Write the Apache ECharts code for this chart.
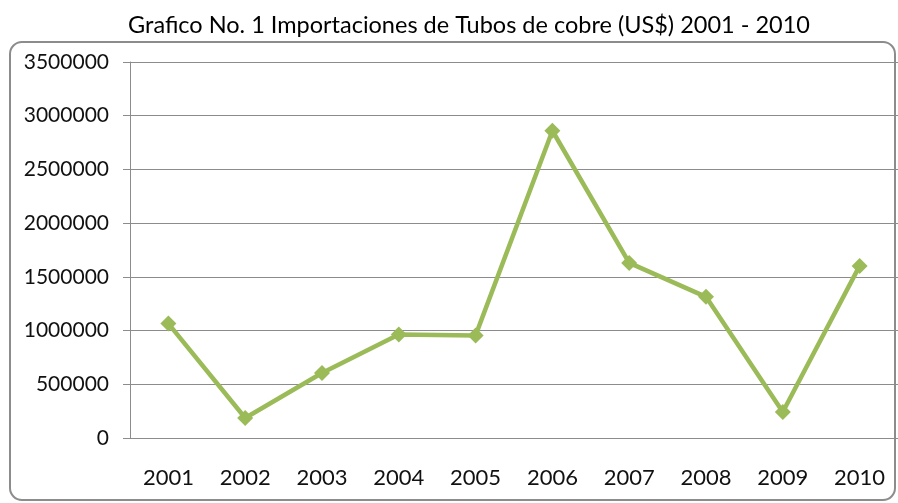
<!DOCTYPE html>
<html>
<head>
<meta charset="utf-8">
<script src="https://cdn.jsdelivr.net/npm/echarts@6/dist/echarts.min.js"></script>
<style>
html, body { margin: 0; padding: 0; background: #fff; }
#chart { width: 898px; height: 503px; }
</style>
</head>
<body>
<div id="chart"></div>
<script>
// datos
var years = ['2001', '2002', '2003', '2004', '2005', '2006', '2007', '2008', '2009', '2010'];
var importaciones = [1065000, 186000, 605000, 963000, 955000, 2860000, 1630000, 1314000, 242000, 1602000];
var yTicks = [0, 500000, 1000000, 1500000, 2000000, 2500000, 3000000, 3500000];

var myChart = echarts.init(document.getElementById('chart'));

var gris = '#8c8c8c';
var fuente = 'Lato';

var option = {
    backgroundColor: '#fff',
    animation: false,
    title: {
        text: 'Grafico No. 1 Importaciones de Tubos de cobre (US$) 2001 - 2010',
        left: 464,
        top: 8,
        textAlign: 'center',
        textStyle: { fontFamily: fuente, fontSize: 23.5, fontWeight: 'normal', color: '#000' }
    },
    graphic: [{
        type: 'rect',
        shape: { x: 10, y: 42, width: 885, height: 458, r: 12 },
        style: { fill: 'none', stroke: gris, lineWidth: 2 },
        z: -1
    }],
    grid: { left: 130, top: 62, width: 780, height: 376 },
    xAxis: {
        type: 'category',
        data: years,
        axisLine: { lineStyle: { color: gris, width: 1 } },
        axisTick: { length: 8, lineStyle: { color: gris } },
        axisLabel: { margin: 29, fontFamily: fuente, fontSize: 22, color: '#111' }
    },
    yAxis: {
        type: 'value',
        min: yTicks[0],
        max: yTicks[yTicks.length - 1],
        interval: 500000,
        axisLine: { show: true, lineStyle: { color: gris, width: 1 } },
        axisTick: { show: true, inside: false, length: 7, lineStyle: { color: gris } },
        splitLine: { lineStyle: { color: gris, width: 1 } },
        axisLabel: {
            margin: 21, fontFamily: fuente, fontSize: 21, color: '#111',
            formatter: function (v) { return String(v); }
        }
    },
    series: [{
        name: 'Importaciones',
        type: 'line',
        data: importaciones,
        symbol: 'diamond',
        symbolSize: 16,
        lineStyle: { color: '#9BBB59', width: 4.5 },
        itemStyle: { color: '#9BBB59' }
    }]
};

myChart.setOption(option);
</script>
</body>
</html>
